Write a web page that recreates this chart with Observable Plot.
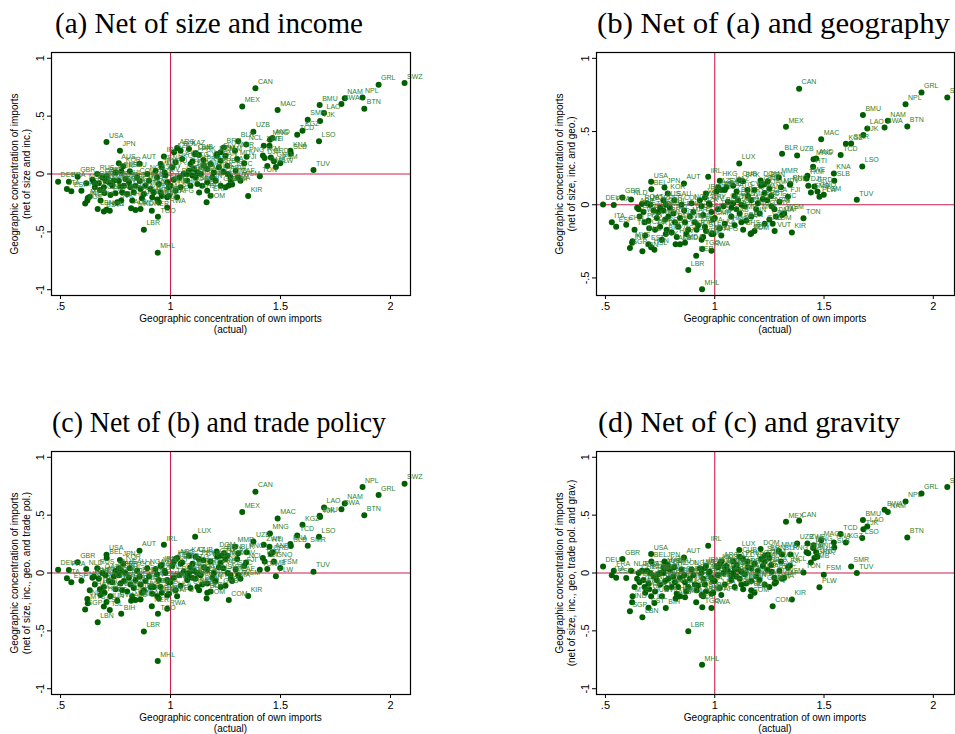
<!DOCTYPE html>
<html><head><meta charset="utf-8">
<script src="https://cdn.jsdelivr.net/npm/d3@7"></script>
<script src="https://cdn.jsdelivr.net/npm/@observablehq/plot@0.6"></script>
<style>
html,body{margin:0;padding:0;background:#fff;}
#wrap{position:relative;width:955px;height:734px;overflow:hidden;font-family:"Liberation Sans",Arial,sans-serif;color:#000;}
.panel{position:absolute;}
.panel svg{overflow:visible;}
.title{position:absolute;font-family:"Liberation Serif","Times New Roman",serif;font-size:29px;line-height:29px;white-space:nowrap;transform-origin:0 0;}
.xt{position:absolute;font-size:10px;text-align:center;line-height:11px;white-space:nowrap;transform:translateX(-50%);}
.yt{position:absolute;font-size:10px;text-align:center;line-height:12px;white-space:nowrap;transform:translate(-50%,-50%) rotate(-90deg);}
</style></head><body><div id="wrap"></div>
<script>
const codes = [
"CAN","MEX","MAC","GRL","SWZ","NPL","NAM","BWA","BMU","LAO",
"BTN","TJK","SMR","KGZ","TCD","LSO","TUV","KIR","UZB","BLR",
"NCL","MNG","AND","ZWE","HTI","KNA","SLB","DJI","GRD","FSM",
"PLW","GMB","TON","CAF","VUT","FJI","PNG","MMR","COM","BDI",
"USA","JPN","AUS","AUT","IRL","LUX","LBR","MHL","TGO","RWA",
"NER","ARG","DEU","FRA","ITA","ESP","GBR","NLD","RUS","KOR",
"BEL","LBN","SGP","IND","ISL","BIH","CHN","MYS","THA","CHE",
"SWE","DNK","POL","PHL","FIN","CZE","NOR","TUR","PRT","EST",
"HUN","ISR","GRC","SVK","IDN","ZAF","BRA","CHL","SVN","NZL",
"PAK","HRV","ROU","EGY","COL","SAU","BGR","PER","ALB","MKD",
"MDA","VNM","UKR","MAR","NGA","LTU","TUN","JOR","KEN","LVA",
"DZA","ECU","GHA","IRN","VEN","CIV","SEN","CMR","URY","YEM",
"MLI","ARE","QAT","KWT","OMN","BHR","GEO","ARM","SLE","AZE",
"BOL","KAZ","CUB","PRK","SYR","HKG","IRQ","LBY","SDN","ETH",
"AGO","MOZ","ZMB","UGA","TZA","PRY","NIC","HND","DOM","GTM",
"SLV","BRN","JAM","PAN","LCA","BRB","MUS","MDG","MWI","GIN",
"BEN","BFA","COG","GAB","KHM","LKA","SUR","MRT","ERI","SOM",
"GNB","CPV","STP","SYC","MDV","WSM","BLZ","GUY","ATG","AFG",
"TTO","BHS","CYP","ABW","DMA","VCT","GNQ","TKM"];

const xActual = [
1.386,1.326,1.487,1.946,2.064,1.873,1.792,1.777,1.678,1.698,
1.881,1.680,1.624,1.600,1.576,1.675,1.650,1.353,1.377,1.308,
1.344,1.452,1.464,1.424,1.450,1.545,1.547,1.428,1.456,1.499,
1.479,1.440,1.406,1.308,1.274,1.335,1.346,1.293,1.265,1.167,
0.709,0.770,0.765,0.859,0.970,1.112,0.879,0.942,0.943,0.985,
0.915,1.030,0.489,0.538,0.529,0.549,0.578,0.617,0.667,0.785,
0.710,0.669,0.612,0.622,0.724,0.776,0.595,0.624,0.633,0.652,
0.656,0.674,0.679,0.682,0.697,0.700,0.705,0.720,0.727,0.697,
0.709,0.742,0.750,0.758,0.773,0.780,0.788,0.795,0.803,0.811,
0.818,0.826,0.833,0.841,0.848,0.815,0.750,0.776,0.821,0.841,
0.864,0.864,0.879,0.886,0.894,0.902,0.909,0.917,0.924,0.932,
0.939,0.947,0.955,0.960,0.955,0.977,0.985,0.992,0.973,0.947,
0.985,0.645,0.690,0.735,0.765,0.860,0.870,0.940,0.960,1.016,
1.046,1.084,1.114,1.129,1.053,1.023,1.008,1.091,1.106,1.084,
1.076,1.099,1.114,1.122,1.137,1.152,1.167,1.182,1.210,1.212,
1.228,1.243,1.250,1.228,1.258,1.220,1.197,1.190,1.205,1.167,
1.144,1.122,1.091,1.076,1.046,1.023,1.000,0.993,1.182,1.164,
1.228,1.250,1.273,1.296,1.303,1.318,1.040,1.060,1.100,1.030,
1.015,1.130,1.150,1.260,1.280,1.240,1.470,1.420];

// (a) net of size and income
const yA = [
0.740,0.584,0.553,0.772,0.786,0.662,0.654,0.605,0.596,0.527,
0.564,0.458,0.469,0.374,0.340,0.282,0.035,-0.190,0.366,0.282,
0.256,0.296,0.311,0.245,0.245,0.200,0.178,0.138,0.143,0.092,
0.060,0.070,-0.020,-0.030,-0.060,0.092,0.150,0.200,-0.100,-0.144,
0.277,0.202,0.092,0.089,0.152,0.170,-0.481,-0.680,-0.370,-0.290,
-0.317,0.225,-0.066,-0.066,-0.130,-0.150,-0.023,-0.081,0.000,0.066,
-0.020,-0.302,-0.254,-0.230,-0.317,-0.230,-0.144,-0.207,-0.196,-0.072,
-0.115,-0.081,-0.138,-0.230,-0.115,-0.164,-0.058,-0.072,-0.182,-0.323,
-0.310,-0.058,-0.167,-0.245,-0.109,-0.158,-0.101,-0.043,-0.173,-0.072,
-0.115,-0.230,-0.158,-0.101,-0.029,0.023,0.014,0.023,-0.297,-0.311,
-0.302,-0.130,-0.173,-0.101,0.000,-0.058,-0.130,-0.202,-0.158,0.029,
-0.029,-0.086,-0.158,0.058,0.086,-0.014,-0.072,-0.115,0.014,-0.245,
-0.202,-0.050,-0.030,-0.100,-0.060,-0.060,-0.210,-0.220,-0.190,0.187,
0.202,0.216,0.179,0.164,0.130,0.101,0.058,0.086,0.043,0.029,
0.000,-0.014,-0.029,0.014,0.000,0.072,0.043,0.086,0.158,0.173,
0.187,0.230,0.158,0.115,0.072,0.058,0.014,-0.029,-0.058,-0.072,
-0.101,-0.086,-0.101,-0.058,-0.115,-0.144,-0.101,-0.187,-0.187,-0.245,
-0.101,-0.115,-0.029,0.029,0.130,-0.058,-0.030,0.000,0.110,-0.200,
-0.050,-0.160,0.120,0.000,-0.090,0.020,0.110,0.160];

// (b) net of (a) and geography
const yB = [
0.793,0.532,0.448,0.766,0.732,0.686,0.573,0.527,0.613,0.520,
0.534,0.477,0.418,0.416,0.339,0.261,0.034,-0.189,0.336,0.348,
0.136,0.311,0.316,0.198,0.259,0.213,0.164,0.130,0.125,0.068,
0.055,0.084,-0.093,-0.070,-0.179,0.055,0.141,0.186,-0.130,-0.195,
0.157,0.118,0.030,0.145,0.191,0.282,-0.445,-0.577,-0.302,-0.314,
-0.348,0.100,0.002,-0.002,-0.120,-0.150,0.050,0.036,0.005,0.077,
0.105,-0.318,-0.295,-0.260,-0.307,-0.200,-0.136,-0.250,-0.170,-0.030,
-0.080,-0.050,-0.120,-0.210,-0.110,-0.160,0.000,-0.040,-0.170,-0.270,
-0.290,-0.050,-0.150,-0.240,-0.100,-0.170,-0.080,-0.020,-0.190,-0.060,
-0.120,-0.220,-0.150,-0.090,0.000,0.030,-0.020,0.000,-0.270,-0.270,
-0.260,-0.120,-0.170,-0.080,0.010,-0.050,-0.120,-0.170,-0.140,0.030,
-0.010,-0.070,-0.150,0.077,0.050,0.000,-0.050,-0.100,0.010,-0.220,
-0.200,-0.020,0.010,-0.090,-0.040,-0.040,-0.200,-0.239,-0.180,0.120,
0.100,0.130,0.167,0.160,0.120,0.164,0.090,0.060,0.030,0.010,
-0.020,-0.030,-0.060,0.000,-0.010,0.060,0.030,0.100,0.165,0.130,
0.140,0.160,0.110,0.080,0.060,0.040,0.010,-0.030,-0.060,-0.080,
-0.110,-0.120,-0.140,-0.080,-0.130,-0.160,-0.090,-0.200,-0.180,-0.200,
-0.130,-0.100,-0.030,0.020,0.120,-0.060,-0.010,0.020,0.090,-0.210,
-0.030,-0.170,0.100,-0.010,-0.080,0.030,0.090,0.180];

// (c) net of (b) and trade policy
const yC = [
0.703,0.528,0.471,0.675,0.772,0.744,0.600,0.552,0.494,0.566,
0.500,0.485,0.235,0.416,0.324,0.313,0.011,-0.198,0.273,0.170,
0.091,0.341,0.180,0.244,0.227,0.250,0.233,0.100,0.164,0.043,
-0.029,0.034,0.028,-0.020,-0.050,0.060,0.180,0.227,-0.233,-0.170,
0.158,0.112,0.040,0.193,0.244,0.313,-0.506,-0.761,-0.353,-0.310,
-0.287,0.130,0.029,0.026,-0.046,-0.080,0.092,0.034,0.040,0.080,
0.130,-0.425,-0.316,-0.224,-0.319,-0.353,-0.066,-0.261,-0.150,-0.030,
-0.100,-0.050,-0.140,-0.190,-0.120,-0.170,-0.020,-0.070,-0.200,-0.290,
-0.250,-0.030,-0.140,-0.240,-0.090,-0.150,-0.070,0.000,-0.160,-0.040,
-0.100,-0.200,-0.130,-0.060,0.020,0.040,0.020,0.020,-0.240,-0.233,
-0.230,-0.100,-0.150,-0.070,0.040,-0.030,-0.120,-0.180,-0.120,0.034,
-0.010,-0.060,-0.120,0.070,0.060,0.000,-0.060,-0.080,0.020,-0.220,
-0.195,-0.040,0.000,-0.080,-0.020,-0.030,-0.170,-0.200,-0.170,0.100,
0.080,0.149,0.141,0.120,0.090,0.121,0.060,0.050,0.020,0.000,
-0.030,-0.040,-0.050,0.000,-0.020,0.050,0.030,0.100,0.185,0.140,
0.150,0.170,0.120,0.090,0.149,0.050,0.000,-0.040,-0.070,-0.090,
-0.100,-0.120,-0.130,-0.060,-0.110,-0.150,-0.080,-0.180,-0.160,-0.220,
-0.120,-0.110,-0.020,0.030,0.120,-0.050,-0.020,0.010,0.080,-0.200,
-0.040,-0.150,0.110,0.000,-0.070,0.040,0.100,0.130];

// (d) net of (c) and gravity
const yD = [
0.451,0.442,0.284,0.686,0.744,0.617,0.528,0.546,0.459,0.402,
0.307,0.379,0.057,0.264,0.336,0.302,0.000,-0.230,0.255,0.160,
0.063,0.240,0.180,0.255,0.216,0.264,0.221,0.170,0.130,-0.015,
-0.124,0.090,0.005,-0.050,-0.090,0.050,0.160,0.190,-0.288,-0.150,
0.164,0.100,0.050,0.135,0.236,0.198,-0.503,-0.793,-0.296,-0.302,
-0.253,0.100,0.057,0.020,-0.020,-0.040,0.121,0.020,0.020,0.070,
0.100,-0.382,-0.330,-0.253,-0.259,-0.302,-0.043,-0.200,-0.120,0.000,
-0.080,-0.060,-0.120,-0.170,-0.090,-0.140,0.000,-0.030,-0.160,-0.300,
-0.200,-0.010,-0.100,-0.200,-0.070,-0.130,-0.050,0.030,-0.120,-0.030,
-0.080,-0.180,-0.120,-0.040,0.030,0.050,0.000,0.040,-0.220,-0.200,
-0.210,-0.080,-0.120,-0.050,0.030,-0.020,-0.100,-0.150,-0.110,0.040,
0.000,-0.050,-0.100,0.060,0.040,0.010,-0.040,-0.070,0.000,-0.200,
-0.180,-0.050,0.020,-0.060,0.000,-0.020,-0.160,-0.190,-0.160,0.050,
0.050,0.100,0.141,0.120,0.060,0.080,0.057,0.040,0.030,0.000,
-0.020,-0.030,-0.050,0.010,-0.010,0.050,0.040,0.080,0.207,0.120,
0.150,0.160,0.130,0.100,0.070,0.060,0.020,-0.030,-0.060,-0.070,
-0.090,-0.100,-0.120,-0.060,-0.100,-0.130,-0.070,-0.170,-0.170,-0.200,
-0.100,-0.120,-0.040,0.020,0.100,-0.040,0.000,0.020,0.070,-0.190,
-0.020,-0.140,0.100,0.010,-0.080,0.030,0.140,0.180];

const xTicks = [0.5, 1, 1.5, 2];
const panelTitles = ["(a) Net of size and income", "(b) Net of (a) and geography",
                     "(c) Net of (b) and trade policy", "(d) Net of (c) and gravity"];
const yTitleLine2 = ["(net of size and inc.)", "(net of size, inc. and geo.)",
                     "(net of size, inc., geo. and trade pol.)", "(net of size, inc., geo, trade pol. and grav.)"];
const yTitleLine1 = "Geographic concentration of imports";
const xTitle = ["Geographic concentration of own imports", "(actual)"];

const GREEN = "#005f00", LABEL = "#2f7f2f", RED = "#cc1f4e";
const fmt = d => d === 0 ? "0" : String(d).replace(/^(-?)0\./, "$1.");

const layout = [
  {ys: yA, left: 0,   top: 40,  w: 470, mr: 60, xd: [0.459, 2.091], yd: [-1.05, 1.05], yt: [-1,-0.5,0,0.5,1], tl: 55,  tb: 32.7, tw: 308},
  {ys: yB, left: 545, top: 40,  w: 410, mr: 1,  xd: [0.459, 2.097], yd: [-0.62, 1.04], yt: [-0.5,0,0.5,1],   tl: 597, tb: 32.7, tw: 353},
  {ys: yC, left: 0,   top: 439, w: 470, mr: 60, xd: [0.459, 2.091], yd: [-1.05, 1.05], yt: [-1,-0.5,0,0.5,1], tl: 52,  tb: 431.7, tw: 334},
  {ys: yD, left: 545, top: 439, w: 410, mr: 1,  xd: [0.459, 2.097], yd: [-1.05, 1.05], yt: [-1,-0.5,0,0.5,1], tl: 598, tb: 431.7, tw: 302}
];

const wrap = document.getElementById("wrap");
layout.forEach((p, k) => {
  const data = codes.map((c, i) => ({code: c, x: xActual[i], y: p.ys[i]}));
  const chart = Plot.plot({
    width: p.w, height: 300,
    marginLeft: 51, marginRight: p.mr, marginTop: 12, marginBottom: 45,
    x: {domain: p.xd},
    y: {domain: p.yd},
    style: {fontFamily: "'Liberation Sans', Arial, sans-serif", fontSize: "11px", background: "transparent", color: "#000", overflow: "visible"},
    marks: [
      Plot.ruleX([1], {stroke: RED, strokeWidth: 1.1}),
      Plot.ruleY([0], {stroke: RED, strokeWidth: 1.1}),
      Plot.dot(data, {x: "x", y: "y", r: 3, fill: GREEN, stroke: "none"}),
      Plot.text(data, {x: "x", y: "y", text: "code", dx: 2.5, dy: -6.5, textAnchor: "start", fontSize: 7, fill: LABEL}),
      Plot.frame({stroke: "#000", strokeWidth: 1.2}),
      Plot.axisX({ticks: xTicks, tickFormat: fmt, tickSize: 4, tickPadding: 3, label: null, fontSize: 11}),
      Plot.axisY({ticks: p.yt, tickFormat: fmt, tickSize: 4, tickPadding: 4, tickRotate: -90, label: null, fontSize: 11})
    ]
  });
  const div = document.createElement("div");
  div.className = "panel";
  div.style.left = p.left + "px";
  div.style.top = p.top + "px";
  div.appendChild(chart);
  wrap.appendChild(div);

  // panel title
  const t = document.createElement("div");
  t.className = "title";
  t.textContent = panelTitles[k];
  t.style.left = p.tl + "px";
  t.style.top = (p.tb - 23.5) + "px";
  wrap.appendChild(t);
  const tw = t.getBoundingClientRect().width;
  t.style.transform = `scaleX(${p.tw / tw})`;

  const frameL = p.left + 51, frameR = p.left + p.w - p.mr;
  const frameT = p.top + 12, frameB = p.top + 255;
  // x title
  const xt = document.createElement("div");
  xt.className = "xt";
  xt.innerHTML = xTitle[0] + "<br>" + xTitle[1];
  xt.style.left = ((frameL + frameR) / 2) + "px";
  xt.style.top = (frameB + 17.5) + "px";
  wrap.appendChild(xt);
  // y title
  const yt = document.createElement("div");
  yt.className = "yt";
  yt.innerHTML = yTitleLine1 + "<br>" + yTitleLine2[k];
  yt.style.left = (p.left + 21) + "px";
  yt.style.top = ((frameT + frameB) / 2) + "px";
  wrap.appendChild(yt);
});
</script>
</body></html>
